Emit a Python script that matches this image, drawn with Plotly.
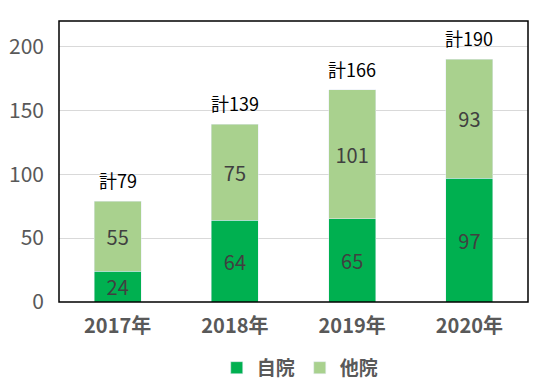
import plotly.graph_objects as go

categories = ["2017年", "2018年", "2019年", "2020年"]
own = [24, 64, 65, 97]
other = [55, 75, 101, 93]
totals = [79, 139, 166, 190]
tick_vals = [0, 50, 100, 150, 200]

font_fam = "Noto Sans CJK JP, Noto Sans, sans-serif"

fig = go.Figure()
fig.add_trace(go.Bar(x=categories, y=own, name="<b>自院</b>", marker_color="#00B050",
                     text=own, textposition="inside", insidetextanchor="middle", textangle=0,
                     textfont=dict(size=20, color="#404040"), width=0.4))
fig.add_trace(go.Bar(x=categories, y=other, name="<b>他院</b>", marker_color="#A9D18E",
                     text=other, textposition="inside", insidetextanchor="middle", textangle=0,
                     textfont=dict(size=20, color="#404040"), width=0.4))

for c, t in zip(categories, totals):
    fig.add_annotation(x=c, y=t, text=f"計{t}", showarrow=False, yanchor="bottom",
                       yshift=6, font=dict(size=18, color="#000000", family=font_fam))

fig.add_shape(type="rect", xref="paper", yref="paper", x0=0, y0=0, x1=1, y1=1,
              line=dict(color="black", width=1.5), fillcolor="rgba(0,0,0,0)", layer="above")

fig.update_layout(
    barmode="stack",
    width=540, height=388,
    margin=dict(l=59, r=12, t=21, b=86, autoexpand=False),
    paper_bgcolor="white", plot_bgcolor="white",
    font=dict(family=font_fam, color="#595959"),
    uniformtext=dict(mode="show", minsize=20),
    legend=dict(orientation="h", x=0.556, xanchor="center", xref="container",
                y=0.052, yanchor="middle", yref="container",
                font=dict(size=19, color="#595959"), traceorder="normal"),
    showlegend=True,
)
fig.update_xaxes(showline=False, automargin=False, ticklabelstandoff=10,
                 tickvals=categories, ticktext=[f"<b>{c}</b>" for c in categories],
                 tickfont=dict(size=20, color="#595959"), ticks="")
fig.update_yaxes(range=[0, 220], tickvals=tick_vals, showgrid=True, gridcolor="#D9D9D9",
                 showline=False, automargin=False, ticklabelstandoff=14,
                 tickfont=dict(size=21, color="#595959"), zeroline=False, ticks="")

post = ("document.documentElement.style.margin='0';document.documentElement.style.overflow='hidden';"
        "document.body.style.margin='0';document.body.style.overflow='hidden';"
        "var d=document.getElementById('{plot_id}');d.style.display='block';")
fig.write_html("out.html", config={"displayModeBar": False}, post_script=post)
